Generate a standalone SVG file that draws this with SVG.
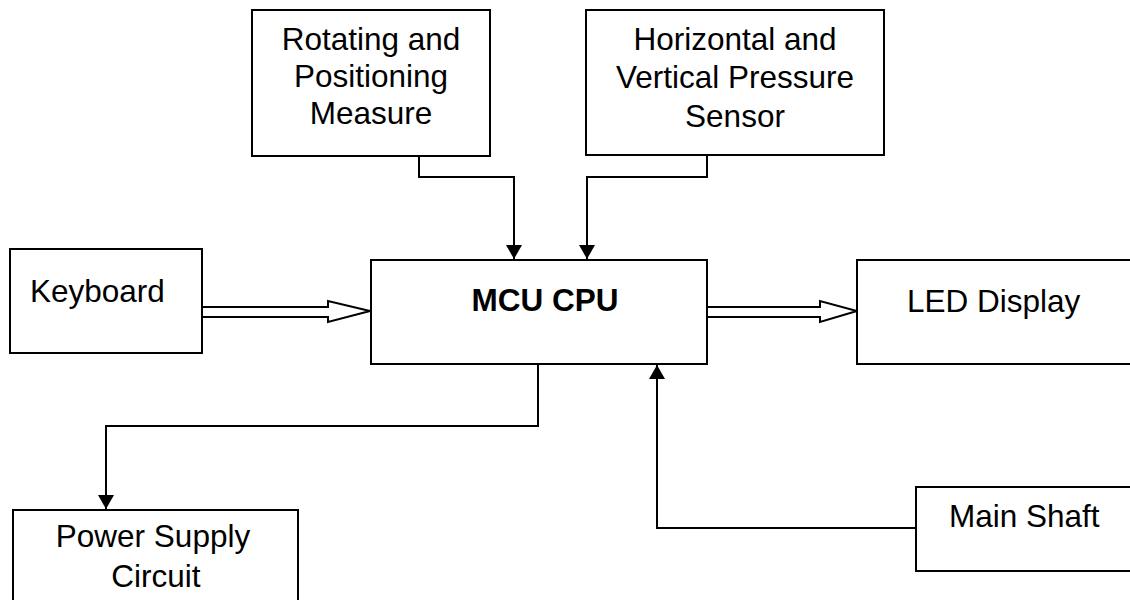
<svg xmlns="http://www.w3.org/2000/svg" width="1130" height="600" viewBox="0 0 1130 600">
<style>
.box{fill:#fff;stroke:#000;stroke-width:2}
.t{font-family:"Liberation Sans",Arial,sans-serif;font-size:31.5px;fill:#000}
.c{text-anchor:middle}
.b{font-weight:bold}
.ln{fill:none;stroke:#000;stroke-width:2}
.dbl{fill:#fff;stroke:#000;stroke-width:2;stroke-linejoin:miter}
</style>
<defs>
<marker id="ah" viewBox="0 0 14 16" refX="14" refY="8" markerWidth="14" markerHeight="16" markerUnits="userSpaceOnUse" orient="auto">
<path d="M0,0 L14,8 L0,16 Z" fill="#000"/>
</marker>
</defs>
<rect width="1130" height="600" fill="#fff"/>
<g id="connectors">
<path class="ln" d="M419,156 V177 H514 V259" marker-end="url(#ah)"/>
<path class="ln" d="M707,156 V177 H587 V259" marker-end="url(#ah)"/>
<path class="ln" d="M538,364 V426 H106 V509" marker-end="url(#ah)"/>
<path class="ln" d="M916,528 H657 V365" marker-end="url(#ah)"/>
<path class="dbl" d="M202,307 H328 V301 L370,311 L328,322 V317 H202"/>
<path class="dbl" d="M707,307 H820 V301 L857,311 L820,322 V317 H707"/>
</g>
<g id="rotating">
<rect class="box" x="252" y="10" width="238" height="146"/>
<text class="t c" x="371" y="50">Rotating and</text>
<text class="t c" x="371" y="87">Positioning</text>
<text class="t c" x="371" y="124">Measure</text>
</g>
<g id="pressure">
<rect class="box" x="586" y="10" width="298" height="145"/>
<text class="t c" x="735" y="50">Horizontal and</text>
<text class="t c" x="735" y="88">Vertical Pressure</text>
<text class="t c" x="735" y="127">Sensor</text>
</g>
<g id="keyboard">
<rect class="box" x="10" y="249" width="192" height="104"/>
<text class="t" x="30" y="302">Keyboard</text>
</g>
<g id="cpu">
<rect class="box" x="371" y="260" width="336" height="104"/>
<text class="t c b" x="545" y="311">MCU CPU</text>
</g>
<g id="led">
<rect class="box" x="857" y="260" width="290" height="104"/>
<text class="t" x="907" y="312">LED Display</text>
</g>
<g id="power">
<rect class="box" x="13" y="510" width="285" height="110"/>
<text class="t c" x="153" y="547">Power Supply</text>
<text class="t c" x="156" y="587">Circuit</text>
</g>
<g id="shaft">
<rect class="box" x="916" y="487" width="230" height="84"/>
<text class="t" x="949" y="527">Main Shaft</text>
</g>
</svg>
